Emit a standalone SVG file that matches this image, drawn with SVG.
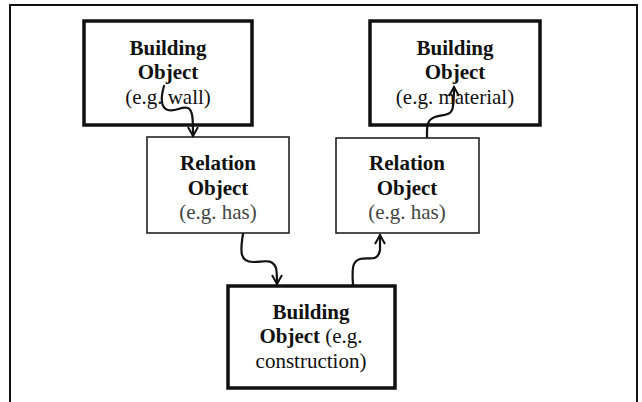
<svg xmlns="http://www.w3.org/2000/svg" width="642" height="402" viewBox="0 0 642 402">
<style>
text{font-family:"Liberation Serif","Times New Roman",serif;font-size:21px;fill:#111;text-anchor:middle}
.b{font-weight:bold}
.g{fill:#444}
.bo{fill:#fff;stroke:#111;stroke-width:3.5}
.ro{fill:#fff;stroke:#222;stroke-width:1.6}
.c{fill:none;stroke:#111;stroke-width:2.2;stroke-linecap:round}
</style>
<defs>
<marker id="ah" viewBox="0 0 12 12" refX="10" refY="6" markerWidth="12" markerHeight="12" markerUnits="userSpaceOnUse" orient="auto">
<path d="M1,1 L10,6 L1,11" fill="none" stroke="#111" stroke-width="2"/>
</marker>
</defs>
<rect width="642" height="402" fill="#fff"/>
<path d="M10,402 L10,5 L637,5 L637,402" fill="none" stroke="#111" stroke-width="2"/>
<g id="bo-wall">
<rect class="bo" x="84" y="21" width="168" height="104"/>
<text x="168" y="55" class="b">Building</text>
<text x="168" y="79" class="b">Object</text>
<text x="168" y="104">(e.g. wall)</text>
</g>
<g id="bo-material">
<rect class="bo" x="370" y="21" width="170" height="104"/>
<text x="455" y="55" class="b">Building</text>
<text x="455" y="79" class="b">Object</text>
<text x="455" y="104">(e.g. material)</text>
</g>
<g id="rel-1">
<rect class="ro" x="147" y="137" width="142" height="96"/>
<text x="218" y="170" class="b">Relation</text>
<text x="218" y="195" class="b">Object</text>
<text x="218" y="219" class="g">(e.g. has)</text>
</g>
<g id="rel-2">
<rect class="ro" x="336" y="138" width="143" height="95"/>
<text x="407" y="170" class="b">Relation</text>
<text x="407" y="195" class="b">Object</text>
<text x="407" y="219" class="g">(e.g. has)</text>
</g>
<g id="bo-construction">
<rect class="bo" x="228" y="286" width="167" height="102"/>
<text x="311" y="319" class="b">Building</text>
<text x="311" y="343"><tspan class="b">Object</tspan> (e.g.</text>
<text x="311" y="368">construction)</text>
</g>
<g id="connectors">
<path class="c" marker-end="url(#ah)" d="M164,86 C161,96 160,108 168,110 C176,112 181,106 188,108 C193,110 193,120 193,136"/>
<path class="c" marker-end="url(#ah)" d="M243,234 C240,252 240,262 253,262 C264,262 272,258 276,268 C277,272 277,278 277,284"/>
<path class="c" marker-end="url(#ah)" d="M353,285 C352,270 352,261 360,259 C369,257 378,262 380,250 C380,245 380,240 380,235"/>
<path class="c" marker-end="url(#ah)" d="M427,137 C427,128 426,120 435,117 C445,114 452,116 453,106 C454,100 454,94 454,87"/>
</g>
</svg>
